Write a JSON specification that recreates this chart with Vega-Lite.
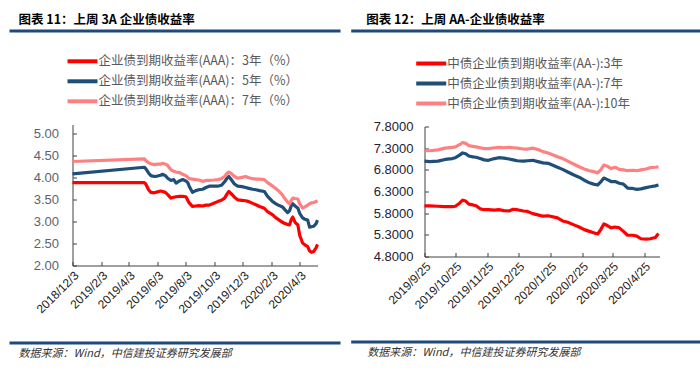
{
  "$schema": "https://vega.github.io/schema/vega-lite/v6.json",
  "padding": {"left": 7.5, "top": 13.5, "right": 0, "bottom": 0},
  "background": "white",
  "spacing": 7,
  "resolve": {"scale": {"color": "independent"}, "legend": {"color": "independent"}},
  "config": {"view": {"stroke": null}, "font": "Noto Sans CJK SC"},
  "datasets": {
    "left": [
      {"date": "2018-12-03", "3年": 3.88, "5年": 4.08, "7年": 4.36},
      {"date": "2019-05-06", "3年": 3.88, "5年": 4.23, "7年": 4.42},
      {"date": "2019-05-09", "3年": 3.85, "5年": 4.20, "7年": 4.38},
      {"date": "2019-05-15", "3年": 3.72, "5年": 4.10, "7年": 4.33},
      {"date": "2019-05-20", "3年": 3.66, "5年": 4.04, "7年": 4.31},
      {"date": "2019-05-27", "3年": 3.65, "5年": 4.02, "7年": 4.29},
      {"date": "2019-06-03", "3年": 3.67, "5年": 4.03, "7年": 4.30},
      {"date": "2019-06-10", "3年": 3.69, "5年": 4.05, "7年": 4.30},
      {"date": "2019-06-14", "3年": 3.68, "5年": 4.07, "7年": 4.32},
      {"date": "2019-06-20", "3年": 3.66, "5年": 4.04, "7年": 4.30},
      {"date": "2019-06-25", "3年": 3.61, "5年": 3.98, "7年": 4.27},
      {"date": "2019-07-02", "3年": 3.53, "5年": 3.93, "7年": 4.17},
      {"date": "2019-07-08", "3年": 3.55, "5年": 3.95, "7年": 4.14},
      {"date": "2019-07-13", "3年": 3.56, "5年": 3.87, "7年": 4.12},
      {"date": "2019-07-20", "3年": 3.57, "5年": 3.92, "7年": 4.11},
      {"date": "2019-07-27", "3年": 3.57, "5年": 3.95, "7年": 4.07},
      {"date": "2019-08-03", "3年": 3.56, "5年": 3.92, "7年": 4.04},
      {"date": "2019-08-07", "3年": 3.48, "5年": 3.88, "7年": 4.00},
      {"date": "2019-08-10", "3年": 3.42, "5年": 3.80, "7年": 3.97},
      {"date": "2019-08-17", "3年": 3.34, "5年": 3.66, "7年": 3.96},
      {"date": "2019-08-24", "3年": 3.35, "5年": 3.70, "7年": 3.95},
      {"date": "2019-08-31", "3年": 3.36, "5年": 3.72, "7年": 3.94},
      {"date": "2019-09-08", "3年": 3.35, "5年": 3.73, "7年": 3.91},
      {"date": "2019-09-15", "3年": 3.37, "5年": 3.77, "7年": 3.93},
      {"date": "2019-09-22", "3年": 3.37, "5年": 3.80, "7年": 3.93},
      {"date": "2019-10-03", "3年": 3.42, "5年": 3.80, "7年": 3.94},
      {"date": "2019-10-10", "3年": 3.45, "5年": 3.80, "7年": 3.95},
      {"date": "2019-10-18", "3年": 3.48, "5年": 3.82, "7年": 3.97},
      {"date": "2019-10-25", "3年": 3.53, "5年": 3.90, "7年": 4.02},
      {"date": "2019-10-30", "3年": 3.62, "5年": 3.98, "7年": 4.09},
      {"date": "2019-11-03", "3年": 3.68, "5年": 4.02, "7年": 4.12},
      {"date": "2019-11-08", "3年": 3.63, "5年": 3.95, "7年": 4.09},
      {"date": "2019-11-15", "3年": 3.55, "5年": 3.85, "7年": 4.02},
      {"date": "2019-11-22", "3年": 3.49, "5年": 3.80, "7年": 3.98},
      {"date": "2019-12-01", "3年": 3.48, "5年": 3.79, "7年": 4.00},
      {"date": "2019-12-09", "3年": 3.47, "5年": 3.77, "7年": 4.02},
      {"date": "2019-12-16", "3年": 3.45, "5年": 3.75, "7年": 3.99},
      {"date": "2019-12-24", "3年": 3.41, "5年": 3.73, "7年": 3.97},
      {"date": "2019-12-31", "3年": 3.38, "5年": 3.72, "7年": 3.96},
      {"date": "2020-01-08", "3年": 3.34, "5年": 3.70, "7年": 3.96},
      {"date": "2020-01-18", "3年": 3.30, "5年": 3.68, "7年": 3.95},
      {"date": "2020-01-25", "3年": 3.22, "5年": 3.57, "7年": 3.88},
      {"date": "2020-02-05", "3年": 3.15, "5年": 3.45, "7年": 3.80},
      {"date": "2020-02-12", "3年": 3.08, "5年": 3.40, "7年": 3.74},
      {"date": "2020-02-19", "3年": 3.03, "5年": 3.36, "7年": 3.68},
      {"date": "2020-02-26", "3年": 2.98, "5年": 3.33, "7年": 3.60},
      {"date": "2020-03-01", "3年": 2.96, "5年": 3.28, "7年": 3.53},
      {"date": "2020-03-08", "3年": 2.93, "5年": 3.20, "7年": 3.44},
      {"date": "2020-03-12", "3年": 2.92, "5年": 3.24, "7年": 3.40},
      {"date": "2020-03-16", "3年": 3.05, "5年": 3.36, "7年": 3.48},
      {"date": "2020-03-19", "3年": 3.10, "5年": 3.40, "7年": 3.53},
      {"date": "2020-03-24", "3年": 2.98, "5年": 3.35, "7年": 3.52},
      {"date": "2020-03-30", "3年": 2.92, "5年": 3.30, "7年": 3.51},
      {"date": "2020-04-03", "3年": 2.68, "5年": 3.18, "7年": 3.40},
      {"date": "2020-04-09", "3年": 2.51, "5年": 3.08, "7年": 3.30},
      {"date": "2020-04-14", "3年": 2.47, "5年": 3.05, "7年": 3.33},
      {"date": "2020-04-20", "3年": 2.43, "5年": 3.03, "7年": 3.37},
      {"date": "2020-04-24", "3年": 2.33, "5年": 2.87, "7年": 3.40},
      {"date": "2020-04-28", "3年": 2.30, "5年": 2.88, "7年": 3.42},
      {"date": "2020-05-03", "3年": 2.32, "5年": 2.89, "7年": 3.43},
      {"date": "2020-05-08", "3年": 2.40, "5年": 2.95, "7年": 3.45},
      {"date": "2020-05-11", "3年": 2.48, "5年": 3.03, "7年": 3.47}
    ],
    "right": [
      {"date": "2019-09-25", "3年": 5.97, "7年": 7.00, "10年": 7.24},
      {"date": "2019-09-30", "3年": 5.97, "7年": 6.99, "10年": 7.24},
      {"date": "2019-10-08", "3年": 5.96, "7年": 7.00, "10年": 7.26},
      {"date": "2019-10-15", "3年": 5.95, "7年": 7.04, "10年": 7.30},
      {"date": "2019-10-22", "3年": 5.95, "7年": 7.06, "10年": 7.32},
      {"date": "2019-10-25", "3年": 5.96, "7年": 7.08, "10年": 7.33},
      {"date": "2019-10-29", "3年": 6.03, "7年": 7.14, "10年": 7.38},
      {"date": "2019-11-01", "3年": 6.10, "7年": 7.19, "10年": 7.43},
      {"date": "2019-11-04", "3年": 6.08, "7年": 7.17, "10年": 7.41},
      {"date": "2019-11-07", "3年": 6.01, "7年": 7.12, "10年": 7.36},
      {"date": "2019-11-11", "3年": 5.99, "7年": 7.10, "10年": 7.34},
      {"date": "2019-11-14", "3年": 5.97, "7年": 7.09, "10年": 7.33},
      {"date": "2019-11-18", "3年": 5.90, "7年": 7.06, "10年": 7.31},
      {"date": "2019-11-22", "3年": 5.88, "7年": 7.03, "10年": 7.29},
      {"date": "2019-11-26", "3年": 5.88, "7年": 7.02, "10年": 7.29},
      {"date": "2019-12-02", "3年": 5.87, "7年": 7.06, "10年": 7.31},
      {"date": "2019-12-06", "3年": 5.88, "7年": 7.08, "10年": 7.32},
      {"date": "2019-12-11", "3年": 5.86, "7年": 7.07, "10年": 7.31},
      {"date": "2019-12-16", "3年": 5.85, "7年": 7.05, "10年": 7.32},
      {"date": "2019-12-20", "3年": 5.89, "7年": 7.03, "10年": 7.31},
      {"date": "2019-12-24", "3年": 5.88, "7年": 7.01, "10年": 7.30},
      {"date": "2019-12-30", "3年": 5.85, "7年": 7.00, "10年": 7.28},
      {"date": "2020-01-03", "3年": 5.84, "7年": 7.01, "10年": 7.28},
      {"date": "2020-01-08", "3年": 5.79, "7年": 7.02, "10年": 7.30},
      {"date": "2020-01-13", "3年": 5.76, "7年": 6.99, "10年": 7.27},
      {"date": "2020-01-18", "3年": 5.73, "7年": 6.96, "10年": 7.22},
      {"date": "2020-01-23", "3年": 5.74, "7年": 6.95, "10年": 7.19},
      {"date": "2020-02-01", "3年": 5.69, "7年": 6.86, "10年": 7.10},
      {"date": "2020-02-06", "3年": 5.62, "7年": 6.81, "10年": 7.06},
      {"date": "2020-02-11", "3年": 5.59, "7年": 6.75, "10年": 7.00},
      {"date": "2020-02-17", "3年": 5.53, "7年": 6.68, "10年": 6.93},
      {"date": "2020-02-22", "3年": 5.48, "7年": 6.63, "10年": 6.87},
      {"date": "2020-02-27", "3年": 5.42, "7年": 6.56, "10年": 6.82},
      {"date": "2020-03-03", "3年": 5.38, "7年": 6.50, "10年": 6.78},
      {"date": "2020-03-07", "3年": 5.35, "7年": 6.47, "10年": 6.76},
      {"date": "2020-03-11", "3年": 5.32, "7年": 6.45, "10年": 6.73},
      {"date": "2020-03-14", "3年": 5.42, "7年": 6.52, "10年": 6.80},
      {"date": "2020-03-17", "3年": 5.55, "7年": 6.61, "10年": 6.91},
      {"date": "2020-03-20", "3年": 5.52, "7年": 6.58, "10年": 6.89},
      {"date": "2020-03-24", "3年": 5.46, "7年": 6.53, "10年": 6.83},
      {"date": "2020-03-28", "3年": 5.48, "7年": 6.53, "10年": 6.86},
      {"date": "2020-04-01", "3年": 5.46, "7年": 6.49, "10年": 6.81},
      {"date": "2020-04-05", "3年": 5.38, "7年": 6.47, "10年": 6.80},
      {"date": "2020-04-09", "3年": 5.29, "7年": 6.38, "10年": 6.78},
      {"date": "2020-04-14", "3年": 5.29, "7年": 6.37, "10年": 6.79},
      {"date": "2020-04-18", "3年": 5.27, "7年": 6.35, "10年": 6.78},
      {"date": "2020-04-22", "3年": 5.21, "7年": 6.36, "10年": 6.80},
      {"date": "2020-04-27", "3年": 5.20, "7年": 6.39, "10年": 6.82},
      {"date": "2020-05-01", "3年": 5.21, "7年": 6.41, "10年": 6.85},
      {"date": "2020-05-06", "3年": 5.24, "7年": 6.43, "10年": 6.86},
      {"date": "2020-05-09", "3年": 5.33, "7年": 6.45, "10年": 6.87}
    ]
  },
  "hconcat": [
    {
      "columns": 1,
      "spacing": 16,
      "resolve": {"scale": {"color": "independent"}, "legend": {"color": "independent"}},
      "concat": [
        {
          "width": 245, "height": 1,
          "data": {"values": [{}]},
          "title": {"text": "图表 11：上周 3A 企业债收益率", "anchor": "start", "frame": "group", "dx": -54, "offset": 3, "fontSize": 12.5, "fontWeight": "bold", "font": "Noto Sans CJK SC", "color": "#000000"},
          "mark": {"type": "rule", "color": "#1F497D", "strokeWidth": 3},
          "encoding": {
            "x": {"datum": 0, "type": "quantitative", "scale": {"domain": [0, 1], "range": [-63, 268]}, "axis": null},
            "x2": {"datum": 1}
          }
        },
        {
          "width": 245, "height": 141,
          "data": {"name": "left"},
          "transform": [{"fold": ["3年", "5年", "7年"], "as": ["series", "value"]}],
          "mark": {"type": "line", "strokeWidth": 3.2, "strokeJoin": "round"},
          "encoding": {
            "x": {
              "field": "date", "type": "temporal",
              "scale": {"type": "utc", "nice": false, "domain": [{"year": 2018, "month": 12, "date": 3, "utc": true}, {"year": 2020, "month": 5, "date": 11, "utc": true}]},
              "axis": {
                "title": null, "grid": false, "format": "%Y/%-m/%-d", "labelAngle": -45, "labelAlign": "right", "labelBaseline": "top",
                "labelOverlap": false, "labelFlush": false, "labelBound": false,
                "labelFont": "Liberation Sans", "labelFontSize": 12, "labelColor": "#222222", "labelPadding": 8,
                "tickSize": -4, "tickColor": "#404040", "domainColor": "#404040", "minExtent": 59.5, "maxExtent": 59.5,
                "values": [
                  {"year": 2018, "month": 12, "date": 3, "utc": true},
                  {"year": 2019, "month": 2, "date": 3, "utc": true},
                  {"year": 2019, "month": 4, "date": 3, "utc": true},
                  {"year": 2019, "month": 6, "date": 3, "utc": true},
                  {"year": 2019, "month": 8, "date": 3, "utc": true},
                  {"year": 2019, "month": 10, "date": 3, "utc": true},
                  {"year": 2019, "month": 12, "date": 3, "utc": true},
                  {"year": 2020, "month": 2, "date": 3, "utc": true},
                  {"year": 2020, "month": 4, "date": 3, "utc": true}
                ]
              }
            },
            "y": {
              "field": "value", "type": "quantitative",
              "scale": {"domain": [2, 5.2], "nice": false, "zero": false},
              "axis": {
                "title": null, "grid": false, "format": ".2f", "values": [2, 2.5, 3, 3.5, 4, 4.5, 5],
                "labelFont": "Liberation Sans", "labelFontSize": 13, "labelColor": "#5a6272", "labelPadding": 18,
                "tickSize": -4, "tickColor": "#404040", "domainColor": "#404040", "minExtent": 64.5, "maxExtent": 64.5
              }
            },
            "color": {
              "field": "series", "type": "nominal",
              "scale": {"domain": ["3年", "5年", "7年"], "range": ["#FF0000", "#1F4E79", "#FF8080"]},
              "legend": {
                "orient": "none", "legendX": -2, "legendY": -75.2, "direction": "vertical", "title": null,
                "symbolType": "M-1.5,0H1.5", "symbolSize": 400, "symbolStrokeWidth": 4, "labelOffset": 4,
                "labelFont": "Noto Sans CJK SC", "labelFontSize": 12.5, "labelColor": "#595959", "labelLimit": 400,
                "rowPadding": 0,
                "labelExpr": "'企业债到期收益率(AAA)：' + datum.label + '（%）'"
              }
            }
          }
        },
        {
          "width": 245, "height": 1,
          "data": {"values": [{}]},
          "title": {"text": "数据来源：Wind，中信建投证券研究发展部", "orient": "bottom", "anchor": "start", "frame": "group", "dx": -54, "offset": 3, "fontSize": 11, "fontStyle": "italic", "fontWeight": "normal", "font": "Noto Sans CJK SC", "color": "#333333"},
          "mark": {"type": "rule", "color": "#1F497D", "strokeWidth": 3},
          "encoding": {
            "x": {"datum": 0, "type": "quantitative", "scale": {"domain": [0, 1], "range": [-63, 268]}, "axis": null},
            "x2": {"datum": 1}
          }
        }
      ]
    },
    {
      "columns": 1,
      "spacing": 19,
      "resolve": {"scale": {"color": "independent"}, "legend": {"color": "independent"}},
      "concat": [
        {
          "width": 235, "height": 1,
          "data": {"values": [{}]},
          "title": {"text": "图表 12：上周 AA-企业债收益率", "anchor": "start", "frame": "group", "dx": -58.3, "offset": 3, "fontSize": 12.5, "fontWeight": "bold", "font": "Noto Sans CJK SC", "color": "#000000"},
          "mark": {"type": "rule", "color": "#1F497D", "strokeWidth": 3},
          "encoding": {
            "x": {"datum": 0, "type": "quantitative", "scale": {"domain": [0, 1], "range": [-73.3, 276.7]}, "axis": null},
            "x2": {"datum": 1}
          }
        },
        {
          "width": 235, "height": 130,
          "data": {"name": "right"},
          "transform": [{"fold": ["3年", "7年", "10年"], "as": ["series", "value"]}],
          "mark": {"type": "line", "strokeWidth": 3.2, "strokeJoin": "round"},
          "encoding": {
            "x": {
              "field": "date", "type": "temporal",
              "scale": {"type": "utc", "nice": false, "domain": [{"year": 2019, "month": 9, "date": 25, "utc": true}, {"year": 2020, "month": 5, "date": 10, "utc": true}]},
              "axis": {
                "title": null, "grid": false, "format": "%Y/%-m/%-d", "labelAngle": -45, "labelAlign": "right", "labelBaseline": "top",
                "labelOverlap": false, "labelFlush": false, "labelBound": false,
                "labelFont": "Liberation Sans", "labelFontSize": 12, "labelColor": "#222222", "labelPadding": 8,
                "tickSize": -4, "tickColor": "#404040", "domainColor": "#404040", "minExtent": 64.5, "maxExtent": 64.5,
                "values": [
                  {"year": 2019, "month": 9, "date": 25, "utc": true},
                  {"year": 2019, "month": 10, "date": 25, "utc": true},
                  {"year": 2019, "month": 11, "date": 25, "utc": true},
                  {"year": 2019, "month": 12, "date": 25, "utc": true},
                  {"year": 2020, "month": 1, "date": 25, "utc": true},
                  {"year": 2020, "month": 2, "date": 25, "utc": true},
                  {"year": 2020, "month": 3, "date": 25, "utc": true},
                  {"year": 2020, "month": 4, "date": 25, "utc": true}
                ]
              }
            },
            "y": {
              "field": "value", "type": "quantitative",
              "scale": {"domain": [4.8, 7.8], "nice": false, "zero": false},
              "axis": {
                "title": null, "grid": false, "format": ".4f", "values": [4.8, 5.3, 5.8, 6.3, 6.8, 7.3, 7.8],
                "labelFont": "Liberation Sans", "labelFontSize": 13, "labelColor": "#222233", "labelPadding": 15.5,
                "tickSize": -4, "tickColor": "#404040", "domainColor": "#404040", "minExtent": 74.8, "maxExtent": 74.8
              }
            },
            "color": {
              "field": "series", "type": "nominal",
              "scale": {"domain": ["3年", "7年", "10年"], "range": ["#FF0000", "#1F4E79", "#FF8080"]},
              "legend": {
                "orient": "none", "legendX": -5.3, "legendY": -75, "direction": "vertical", "title": null,
                "symbolType": "M-1.5,0H1.5", "symbolSize": 400, "symbolStrokeWidth": 4, "labelOffset": 4,
                "labelFont": "Noto Sans CJK SC", "labelFontSize": 12.5, "labelColor": "#595959", "labelLimit": 400,
                "rowPadding": 0,
                "labelExpr": "'中债企业债到期收益率(AA-):' + datum.label"
              }
            }
          }
        },
        {
          "width": 235, "height": 1,
          "data": {"values": [{}]},
          "title": {"text": "数据来源：Wind，中信建投证券研究发展部", "orient": "bottom", "anchor": "start", "frame": "group", "dx": -57.3, "offset": 3, "fontSize": 11, "fontStyle": "italic", "fontWeight": "normal", "font": "Noto Sans CJK SC", "color": "#333333"},
          "mark": {"type": "rule", "color": "#1F497D", "strokeWidth": 3},
          "encoding": {
            "x": {"datum": 0, "type": "quantitative", "scale": {"domain": [0, 1], "range": [-73.3, 276.7]}, "axis": null},
            "x2": {"datum": 1}
          }
        }
      ]
    }
  ]
}
